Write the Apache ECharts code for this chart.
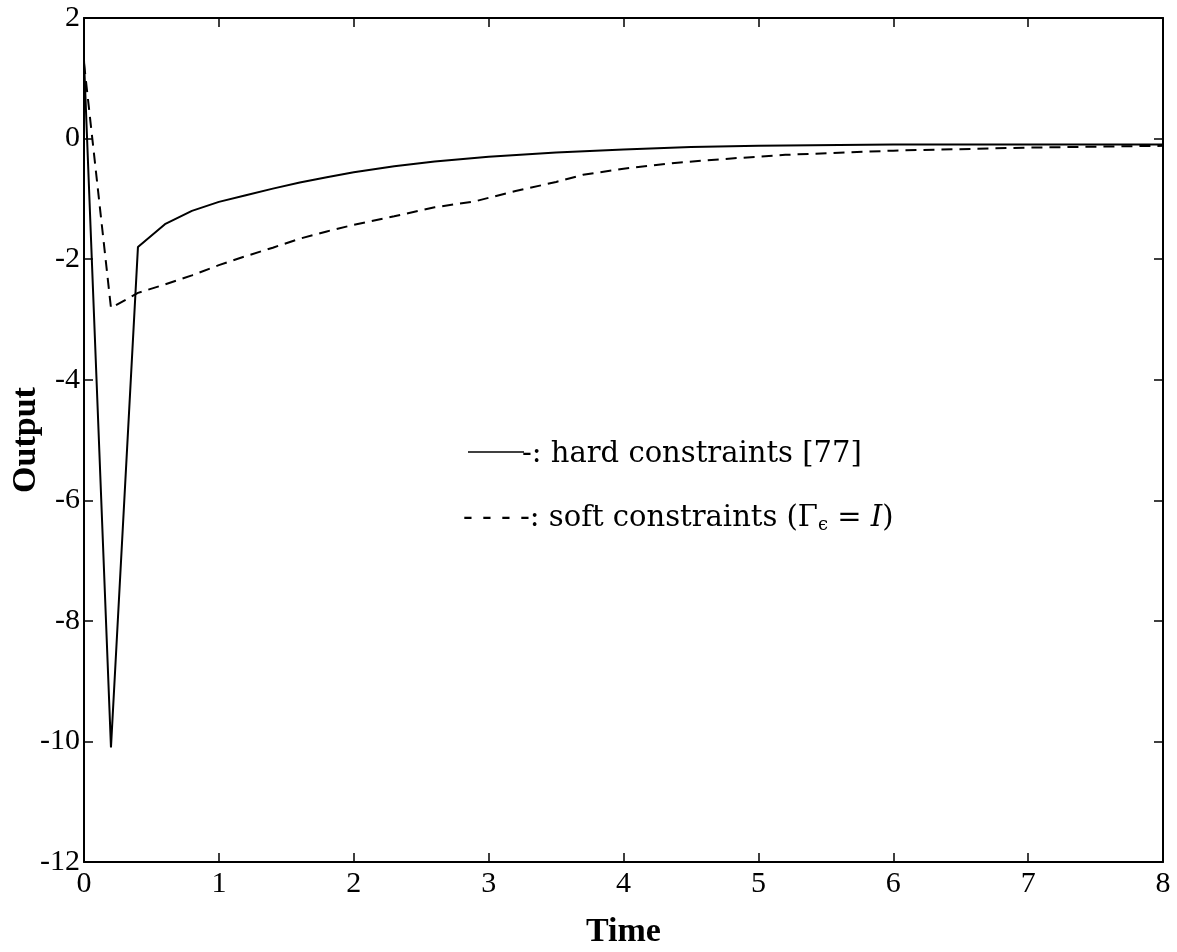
<!DOCTYPE html>
<html>
<head>
<meta charset="utf-8">
<script src="https://cdn.jsdelivr.net/npm/echarts@6/dist/echarts.min.js"></script>
<style>
html,body{margin:0;padding:0;background:#fff;}
#chart{width:1177px;height:952px;}
</style>
</head>
<body>
<div id="chart"></div>
<script>
// Data
const xTicks = [0, 1, 2, 3, 4, 5, 6, 7, 8];
const yTicks = [2, 0, -2, -4, -6, -8, -10, -12];

const hardTime = [0, 0.2, 0.4, 0.6, 0.8, 1.0, 1.2, 1.4, 1.6, 1.8, 2.0, 2.3, 2.6, 3.0, 3.5, 4.0, 4.5, 5.0, 6.0, 7.0, 8.0];
const hardOutput = [1.3, -10.1, -1.8, -1.42, -1.2, -1.05, -0.94, -0.83, -0.73, -0.64, -0.56, -0.46, -0.38, -0.3, -0.23, -0.18, -0.14, -0.12, -0.1, -0.1, -0.1];

const softTime = [0, 0.2, 0.4, 0.6, 0.8, 1.0, 1.2, 1.4, 1.6, 1.8, 2.0, 2.3, 2.6, 2.9, 3.2, 3.5, 3.7, 4.0, 4.4, 4.8, 5.2, 6.0, 7.0, 8.0];
const softOutput = [1.25, -2.81, -2.56, -2.42, -2.27, -2.1, -1.95, -1.81, -1.66, -1.54, -1.43, -1.29, -1.14, -1.04, -0.87, -0.72, -0.6, -0.5, -0.4, -0.33, -0.27, -0.2, -0.15, -0.12];

const legendHard = '-: hard constraints [77]';
const legendSoftPre = '- - - -: soft constraints (Γ';
const legendSoftSub = 'ϵ';
const legendSoftPost = ' = ';
const legendSoftI = 'I';
const xName = 'Time';
const yName = 'Output';

const serif = '"Liberation Serif", "Times New Roman", serif';
const cmLike = '"DejaVu Serif", serif';

const chart = echarts.init(document.getElementById('chart'));

const gridL = 84, gridR = 14, gridT = 18, gridB = 90;

const axisLine = { show: true, onZero: false, lineStyle: { color: '#000', width: 2 } };
const tickIn = { show: true, inside: true, length: 9, lineStyle: { color: '#000', width: 1.5 } };

chart.setOption({
  backgroundColor: '#fff',
  animation: false,
  grid: { left: gridL, right: gridR, top: gridT, bottom: gridB, containLabel: false, outerBoundsMode: 'none' },
  xAxis: [
    {
      type: 'value', position: 'bottom', min: 0, max: 8, interval: 1,
      axisLine: axisLine, axisTick: tickIn, splitLine: { show: false },
      axisLabel: { color: '#000', fontFamily: serif, fontSize: 30, margin: 7,
        formatter: v => xTicks.includes(v) ? String(v) : '' },
      name: xName, nameLocation: 'middle', nameGap: 53, nameMoveOverlap: false,
      nameTextStyle: { color: '#000', fontFamily: serif, fontSize: 34, fontWeight: 'bold' }
    },
    {
      type: 'value', position: 'top', min: 0, max: 8, interval: 1,
      axisLine: axisLine, axisTick: tickIn, axisLabel: { show: false }, splitLine: { show: false }
    }
  ],
  yAxis: [
    {
      type: 'value', position: 'left', min: -12, max: 2, interval: 2,
      axisLine: axisLine, axisTick: tickIn, splitLine: { show: false },
      axisLabel: { color: '#000', fontFamily: serif, fontSize: 30, margin: 4,
        formatter: v => yTicks.includes(v) ? String(v) : '' },
      name: yName, nameLocation: 'middle', nameGap: 41, nameRotate: 90, nameMoveOverlap: false,
      nameTextStyle: { color: '#000', fontFamily: serif, fontSize: 34, fontWeight: 'bold' }
    },
    {
      type: 'value', position: 'right', min: -12, max: 2, interval: 2,
      axisLine: axisLine, axisTick: tickIn, axisLabel: { show: false }, splitLine: { show: false }
    }
  ],
  series: [
    {
      name: 'hard constraints [77]', type: 'line', xAxisIndex: 0, yAxisIndex: 0,
      data: hardTime.map((t, i) => [t, hardOutput[i]]),
      showSymbol: false, smooth: false,
      lineStyle: { color: '#000', width: 2, type: 'solid' }
    },
    {
      name: 'soft constraints', type: 'line', xAxisIndex: 0, yAxisIndex: 0,
      data: softTime.map((t, i) => [t, softOutput[i]]),
      showSymbol: false, smooth: false,
      lineStyle: { color: '#000', width: 2, type: [11, 7] }
    }
  ],
  graphic: [
    { type: 'line', shape: { x1: 468, y1: 452, x2: 524, y2: 452 }, style: { stroke: '#000', lineWidth: 1.5 } },
    { type: 'text', x: 522, y: 454, style: { text: legendHard, fill: '#000', font: '29px ' + cmLike, textVerticalAlign: 'middle' } },
    {
      type: 'text', x: 463, y: 518,
      style: {
        text: '{a|' + legendSoftPre + '}{s|' + legendSoftSub + '}{a|' + legendSoftPost + '}{i|' + legendSoftI + '}{a|)}',
        textVerticalAlign: 'middle',
        rich: {
          a: { fill: '#000', fontFamily: cmLike, fontSize: 29 },
          s: { fill: '#000', fontFamily: cmLike, fontSize: 18, verticalAlign: 'bottom', padding: [14, 0, 0, 0] },
          i: { fill: '#000', fontFamily: cmLike, fontSize: 29, fontStyle: 'italic' }
        }
      }
    }
  ]
});
</script>
</body>
</html>
